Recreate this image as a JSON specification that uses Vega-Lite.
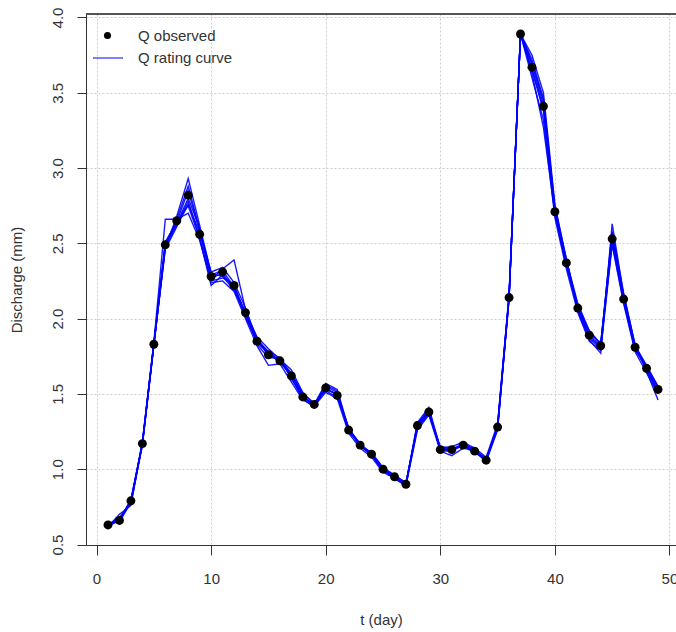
{
  "$schema": "https://vega.github.io/schema/vega-lite/v6.json",
  "description": "Observed discharge and rating-curve ensemble",
  "width": 590,
  "height": 531,
  "autosize": {"type": "none"},
  "padding": {"left": 86, "top": 14, "right": 0, "bottom": 87},
  "background": "white",
  "config": {
    "view": {"stroke": null},
    "font": "Liberation Sans",
    "axis": {
      "labelFontSize": 15,
      "labelColor": "#333333",
      "labelFont": "Liberation Sans",
      "titleFont": "Liberation Sans",
      "titleFontSize": 15,
      "titleFontWeight": "normal",
      "titleColor": "#333333",
      "tickColor": "#333333",
      "domainColor": "#333333",
      "gridColor": "#cccccc",
      "gridDash": [2, 2],
      "labelFlush": false,
      "labelOverlap": false
    },
    "legend": {
      "title": null,
      "orient": "none",
      "padding": 0,
      "labelFontSize": 15,
      "labelFont": "Liberation Sans",
      "labelColor": "#333333"
    }
  },
  "data": {
    "values": [
      {"t": 1, "obs": 0.63, "r1": 0.63, "r2": 0.63, "r3": 0.62, "r4": 0.63, "r5": 0.64, "r6": 0.63, "r7": 0.62, "r8": 0.63},
      {"t": 2, "obs": 0.66, "r1": 0.66, "r2": 0.67, "r3": 0.70, "r4": 0.66, "r5": 0.65, "r6": 0.68, "r7": 0.66, "r8": 0.67},
      {"t": 3, "obs": 0.79, "r1": 0.78, "r2": 0.79, "r3": 0.76, "r4": 0.80, "r5": 0.78, "r6": 0.77, "r7": 0.79, "r8": 0.79},
      {"t": 4, "obs": 1.17, "r1": 1.17, "r2": 1.16, "r3": 1.18, "r4": 1.17, "r5": 1.17, "r6": 1.16, "r7": 1.18, "r8": 1.17},
      {"t": 5, "obs": 1.83, "r1": 1.83, "r2": 1.82, "r3": 1.84, "r4": 1.83, "r5": 1.82, "r6": 1.83, "r7": 1.84, "r8": 1.83},
      {"t": 6, "obs": 2.49, "r1": 2.48, "r2": 2.47, "r3": 2.66, "r4": 2.50, "r5": 2.48, "r6": 2.46, "r7": 2.51, "r8": 2.49},
      {"t": 7, "obs": 2.65, "r1": 2.64, "r2": 2.68, "r3": 2.66, "r4": 2.63, "r5": 2.62, "r6": 2.61, "r7": 2.64, "r8": 2.66},
      {"t": 8, "obs": 2.82, "r1": 2.85, "r2": 2.93, "r3": 2.70, "r4": 2.80, "r5": 2.78, "r6": 2.76, "r7": 2.75, "r8": 2.88},
      {"t": 9, "obs": 2.56, "r1": 2.58, "r2": 2.62, "r3": 2.52, "r4": 2.60, "r5": 2.54, "r6": 2.57, "r7": 2.53, "r8": 2.59},
      {"t": 10, "obs": 2.28, "r1": 2.27, "r2": 2.30, "r3": 2.25, "r4": 2.26, "r5": 2.24, "r6": 2.29, "r7": 2.22, "r8": 2.31},
      {"t": 11, "obs": 2.31, "r1": 2.30, "r2": 2.28, "r3": 2.27, "r4": 2.33, "r5": 2.25, "r6": 2.32, "r7": 2.29, "r8": 2.34},
      {"t": 12, "obs": 2.22, "r1": 2.20, "r2": 2.19, "r3": 2.23, "r4": 2.39, "r5": 2.18, "r6": 2.21, "r7": 2.20, "r8": 2.24},
      {"t": 13, "obs": 2.04, "r1": 2.03, "r2": 2.05, "r3": 2.02, "r4": 2.06, "r5": 2.00, "r6": 2.04, "r7": 2.01, "r8": 2.07},
      {"t": 14, "obs": 1.85, "r1": 1.84, "r2": 1.87, "r3": 1.86, "r4": 1.83, "r5": 1.82, "r6": 1.88, "r7": 1.85, "r8": 1.86},
      {"t": 15, "obs": 1.76, "r1": 1.77, "r2": 1.75, "r3": 1.78, "r4": 1.74, "r5": 1.69, "r6": 1.80, "r7": 1.77, "r8": 1.78},
      {"t": 16, "obs": 1.72, "r1": 1.71, "r2": 1.73, "r3": 1.72, "r4": 1.74, "r5": 1.70, "r6": 1.73, "r7": 1.71, "r8": 1.74},
      {"t": 17, "obs": 1.62, "r1": 1.63, "r2": 1.61, "r3": 1.64, "r4": 1.60, "r5": 1.58, "r6": 1.66, "r7": 1.62, "r8": 1.63},
      {"t": 18, "obs": 1.48, "r1": 1.49, "r2": 1.47, "r3": 1.50, "r4": 1.48, "r5": 1.46, "r6": 1.51, "r7": 1.46, "r8": 1.49},
      {"t": 19, "obs": 1.43, "r1": 1.42, "r2": 1.41, "r3": 1.44, "r4": 1.43, "r5": 1.42, "r6": 1.43, "r7": 1.44, "r8": 1.42},
      {"t": 20, "obs": 1.54, "r1": 1.53, "r2": 1.55, "r3": 1.52, "r4": 1.56, "r5": 1.51, "r6": 1.57, "r7": 1.53, "r8": 1.54},
      {"t": 21, "obs": 1.49, "r1": 1.50, "r2": 1.51, "r3": 1.48, "r4": 1.52, "r5": 1.47, "r6": 1.53, "r7": 1.50, "r8": 1.49},
      {"t": 22, "obs": 1.26, "r1": 1.27, "r2": 1.25, "r3": 1.28, "r4": 1.26, "r5": 1.24, "r6": 1.27, "r7": 1.25, "r8": 1.27},
      {"t": 23, "obs": 1.16, "r1": 1.15, "r2": 1.17, "r3": 1.15, "r4": 1.17, "r5": 1.14, "r6": 1.16, "r7": 1.16, "r8": 1.17},
      {"t": 24, "obs": 1.10, "r1": 1.10, "r2": 1.09, "r3": 1.11, "r4": 1.10, "r5": 1.08, "r6": 1.11, "r7": 1.09, "r8": 1.10},
      {"t": 25, "obs": 1.00, "r1": 1.00, "r2": 0.99, "r3": 1.01, "r4": 1.00, "r5": 0.98, "r6": 1.01, "r7": 1.00, "r8": 1.00},
      {"t": 26, "obs": 0.95, "r1": 0.95, "r2": 0.94, "r3": 0.96, "r4": 0.94, "r5": 0.94, "r6": 0.96, "r7": 0.95, "r8": 0.95},
      {"t": 27, "obs": 0.90, "r1": 0.90, "r2": 0.89, "r3": 0.91, "r4": 0.90, "r5": 0.89, "r6": 0.91, "r7": 0.90, "r8": 0.90},
      {"t": 28, "obs": 1.29, "r1": 1.28, "r2": 1.30, "r3": 1.27, "r4": 1.31, "r5": 1.26, "r6": 1.29, "r7": 1.28, "r8": 1.30},
      {"t": 29, "obs": 1.38, "r1": 1.39, "r2": 1.40, "r3": 1.37, "r4": 1.41, "r5": 1.36, "r6": 1.38, "r7": 1.37, "r8": 1.39},
      {"t": 30, "obs": 1.13, "r1": 1.13, "r2": 1.12, "r3": 1.14, "r4": 1.14, "r5": 1.12, "r6": 1.15, "r7": 1.13, "r8": 1.13},
      {"t": 31, "obs": 1.13, "r1": 1.14, "r2": 1.12, "r3": 1.13, "r4": 1.15, "r5": 1.09, "r6": 1.14, "r7": 1.12, "r8": 1.13},
      {"t": 32, "obs": 1.16, "r1": 1.15, "r2": 1.17, "r3": 1.16, "r4": 1.18, "r5": 1.14, "r6": 1.15, "r7": 1.16, "r8": 1.17},
      {"t": 33, "obs": 1.12, "r1": 1.12, "r2": 1.13, "r3": 1.11, "r4": 1.14, "r5": 1.12, "r6": 1.13, "r7": 1.12, "r8": 1.13},
      {"t": 34, "obs": 1.06, "r1": 1.07, "r2": 1.05, "r3": 1.06, "r4": 1.08, "r5": 1.05, "r6": 1.07, "r7": 1.06, "r8": 1.06},
      {"t": 35, "obs": 1.28, "r1": 1.27, "r2": 1.29, "r3": 1.28, "r4": 1.30, "r5": 1.26, "r6": 1.27, "r7": 1.28, "r8": 1.29},
      {"t": 36, "obs": 2.14, "r1": 2.14, "r2": 2.15, "r3": 2.13, "r4": 2.16, "r5": 2.13, "r6": 2.14, "r7": 2.14, "r8": 2.15},
      {"t": 37, "obs": 3.89, "r1": 3.89, "r2": 3.89, "r3": 3.89, "r4": 3.89, "r5": 3.89, "r6": 3.89, "r7": 3.89, "r8": 3.89},
      {"t": 38, "obs": 3.67, "r1": 3.69, "r2": 3.72, "r3": 3.65, "r4": 3.75, "r5": 3.60, "r6": 3.63, "r7": 3.66, "r8": 3.70},
      {"t": 39, "obs": 3.41, "r1": 3.42, "r2": 3.46, "r3": 3.38, "r4": 3.50, "r5": 3.32, "r6": 3.27, "r7": 3.40, "r8": 3.45},
      {"t": 40, "obs": 2.71, "r1": 2.72, "r2": 2.74, "r3": 2.69, "r4": 2.76, "r5": 2.67, "r6": 2.70, "r7": 2.71, "r8": 2.73},
      {"t": 41, "obs": 2.37, "r1": 2.38, "r2": 2.40, "r3": 2.35, "r4": 2.39, "r5": 2.33, "r6": 2.36, "r7": 2.37, "r8": 2.39},
      {"t": 42, "obs": 2.07, "r1": 2.08, "r2": 2.05, "r3": 2.09, "r4": 2.10, "r5": 2.04, "r6": 2.06, "r7": 2.07, "r8": 2.08},
      {"t": 43, "obs": 1.89, "r1": 1.88, "r2": 1.86, "r3": 1.90, "r4": 1.92, "r5": 1.85, "r6": 1.87, "r7": 1.89, "r8": 1.92},
      {"t": 44, "obs": 1.82, "r1": 1.81, "r2": 1.77, "r3": 1.84, "r4": 1.83, "r5": 1.79, "r6": 1.80, "r7": 1.82, "r8": 1.83},
      {"t": 45, "obs": 2.53, "r1": 2.55, "r2": 2.63, "r3": 2.50, "r4": 2.57, "r5": 2.49, "r6": 2.52, "r7": 2.54, "r8": 2.58},
      {"t": 46, "obs": 2.13, "r1": 2.14, "r2": 2.16, "r3": 2.11, "r4": 2.15, "r5": 2.10, "r6": 2.12, "r7": 2.13, "r8": 2.17},
      {"t": 47, "obs": 1.81, "r1": 1.80, "r2": 1.83, "r3": 1.79, "r4": 1.82, "r5": 1.78, "r6": 1.81, "r7": 1.80, "r8": 1.82},
      {"t": 48, "obs": 1.67, "r1": 1.68, "r2": 1.65, "r3": 1.68, "r4": 1.69, "r5": 1.64, "r6": 1.66, "r7": 1.67, "r8": 1.68},
      {"t": 49, "obs": 1.53, "r1": 1.52, "r2": 1.46, "r3": 1.54, "r4": 1.55, "r5": 1.50, "r6": 1.51, "r7": 1.50, "r8": 1.55}
    ]
  },
  "layer": [
    {
      "transform": [{"fold": ["r1", "r2", "r3", "r4", "r5", "r6", "r7", "r8"], "as": ["run", "Q"]}],
      "mark": {"type": "line", "strokeWidth": 1.4, "opacity": 0.9, "color": "#0000ff", "stroke": "#0000ff"},
      "encoding": {
        "x": {
          "field": "t",
          "type": "quantitative",
          "scale": {"domain": [-0.92, 50.57], "nice": false, "zero": false},
          "axis": {
            "title": "t (day)",
            "values": [0, 10, 20, 30, 40, 50],
            "tickSize": 10,
            "labelPadding": 16,
            "titlePadding": 26,
            "grid": true
          }
        },
        "y": {
          "field": "Q",
          "type": "quantitative",
          "scale": {"domain": [0.4967, 4.023], "nice": false, "zero": false},
          "axis": {
            "title": "Discharge (mm)",
            "values": [0.5, 1, 1.5, 2, 2.5, 3, 3.5, 4],
            "format": ".1f",
            "labelAngle": 270,
            "labelAlign": "center",
            "labelBaseline": "bottom",
            "tickSize": 9,
            "labelPadding": 12,
            "titlePadding": 26,
            "grid": true
          }
        },
        "detail": {"field": "run", "type": "nominal"},
        "strokeDash": {
          "datum": "Q rating curve",
          "type": "nominal",
          "scale": {"domain": ["Q rating curve"], "range": [[1, 0]]},
          "legend": {
            "legendX": 6,
            "legendY": 28,
            "symbolType": "stroke",
            "symbolSize": 900,
            "symbolStrokeColor": "#0000ff",
            "symbolStrokeWidth": 1.2,
            "symbolOpacity": 1,
            "labelOffset": 14
          }
        }
      }
    },
    {
      "mark": {"type": "point", "filled": true, "size": 80, "opacity": 1},
      "encoding": {
        "x": {"field": "t", "type": "quantitative", "title": "t (day)"},
        "y": {"field": "obs", "type": "quantitative", "title": "Discharge (mm)"},
        "color": {
          "datum": "Q observed",
          "type": "nominal",
          "scale": {"domain": ["Q observed"], "range": ["black"]},
          "legend": {
            "legendX": 14,
            "legendY": 14,
            "symbolType": "circle",
            "symbolSize": 50,
            "symbolOpacity": 1,
            "labelOffset": 23
          }
        }
      }
    },
    {
      "mark": {"type": "rule", "color": "#555555", "strokeWidth": 1.5},
      "encoding": {
        "y": {"datum": 4.023, "type": "quantitative", "title": "Discharge (mm)"}
      }
    }
  ]
}
